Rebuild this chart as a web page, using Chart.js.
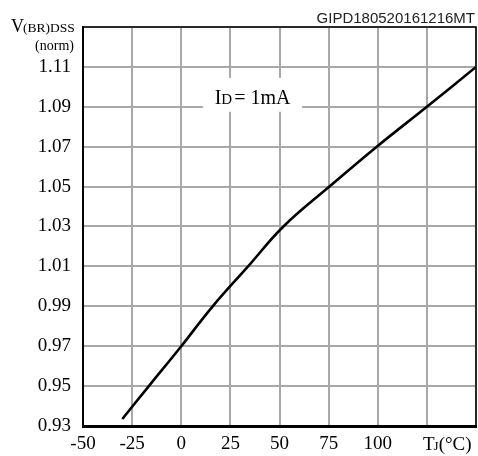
<!DOCTYPE html>
<html>
<head>
<meta charset="utf-8">
<script src="https://cdn.jsdelivr.net/npm/chart.js@4.4.1/dist/chart.umd.min.js"></script>
<style>
  html, body { margin: 0; padding: 0; background: #fff; }
  canvas { display: block; }
</style>
</head>
<body>
<canvas id="bvChart" width="478" height="456"></canvas>
<script>
// Junction temperature (°C) and normalised breakdown voltage
const tempC = [-30, -16.5, 0, 16, 34, 52, 75.4, 99.5, 125, 150];
const vNorm = [0.9335, 0.95, 0.97, 0.99, 1.01, 1.03, 1.05, 1.07, 1.09, 1.11];

const xTicks = [-50, -25, 0, 25, 50, 75, 100];   // labelled x ticks
const yMin = 0.93, yMax = 1.13, yStep = 0.02;
const xMin = -50, xMax = 150, xStep = 25;

const serif = '"Liberation Serif", "Times New Roman", serif';
const sans = '"Liberation Sans", Arial, sans-serif';

// frame, labels and the "ID = 1mA" note
const extras = {
    id: 'extras',
    beforeDatasetsDraw(chart) {
        const { ctx, scales: { x, y } } = chart;
        // white box behind the current note
        const bx1 = x.getPixelForValue(11), bx2 = x.getPixelForValue(61.5);
        const by1 = y.getPixelForValue(1.1045), by2 = y.getPixelForValue(1.0875);
        ctx.save();
        ctx.fillStyle = '#fff';
        ctx.fillRect(bx1, by1, bx2 - bx1, by2 - by1);
        ctx.restore();
    },
    afterDraw(chart) {
        const { ctx, chartArea: a, scales: { x, y } } = chart;
        ctx.save();
        // top and right edges of the frame
        ctx.strokeStyle = '#000';
        ctx.lineWidth = 1.5;
        ctx.beginPath();
        ctx.moveTo(a.left, a.top);
        ctx.lineTo(a.right, a.top);
        ctx.lineTo(a.right, a.bottom);
        ctx.stroke();

        ctx.fillStyle = '#000';
        ctx.textBaseline = 'alphabetic';

        // note text
        let tx = x.getPixelForValue(17);
        const ty = y.getPixelForValue(1.0915);
        ctx.textAlign = 'left';
        ctx.font = '20px ' + serif;
        ctx.fillText('I', tx, ty);
        tx += ctx.measureText('I').width;
        ctx.font = '15px ' + serif;
        ctx.fillText('D', tx, ty);
        tx += ctx.measureText('D').width + 2;
        ctx.font = '20px ' + serif;
        ctx.fillText('= 1mA', tx, ty);

        // y axis title
        ctx.font = '18px ' + serif;
        ctx.fillText('V', 11, 32);
        const vw = ctx.measureText('V').width;
        ctx.font = '13.5px ' + serif;
        ctx.fillText('(BR)DSS', 11 + vw - 1, 32);
        ctx.textAlign = 'right';
        ctx.font = '14px ' + serif;
        ctx.fillText('(norm)', 74, 50);

        // x axis title
        ctx.textAlign = 'left';
        let ux = 423;
        const uy = 450;
        ctx.font = '19px ' + serif;
        ctx.fillText('T', ux, uy);
        ux += ctx.measureText('T').width - 1;
        ctx.font = '13px ' + serif;
        ctx.fillText('J', ux, uy);
        ux += ctx.measureText('J').width;
        ctx.font = '19px ' + serif;
        ctx.fillText('(\u00b0C)', ux, uy);

        // figure code
        ctx.textAlign = 'right';
        ctx.font = '15px ' + sans;
        ctx.fillStyle = '#222';
        ctx.fillText('GIPD180520161216MT', 475, 23);
        ctx.restore();
    }
};

new Chart(document.getElementById('bvChart'), {
    type: 'line',
    data: {
        datasets: [{
            data: tempC.map((t, i) => ({ x: t, y: vNorm[i] })),
            borderColor: '#000',
            borderWidth: 2.6,
            pointRadius: 0,
            tension: 0.4,
            fill: false
        }]
    },
    options: {
        responsive: false,
        animation: false,
        devicePixelRatio: 1,
        layout: { padding: { top: 27, right: 2, left: 0, bottom: 0 } },
        plugins: { legend: { display: false }, tooltip: { enabled: false } },
        scales: {
            x: {
                type: 'linear',
                min: xMin,
                max: xMax,
                afterFit: s => { s.height = 30; s.paddingLeft = 0; s.paddingRight = 0; },
                afterBuildTicks: s => {
                    s.ticks = [];
                    for (let v = xMin; v <= xMax; v += xStep) s.ticks.push({ value: v });
                },
                ticks: {
                    padding: 7,
                    color: '#000',
                    font: { family: serif, size: 19 },
                    maxRotation: 0,
                    autoSkip: false,
                    callback: v => xTicks.includes(v) ? String(v) : ''
                },
                grid: { color: '#a8a8a8', lineWidth: 2, drawTicks: false },
                border: { display: true, color: '#000', width: 3 }
            },
            y: {
                min: yMin,
                max: yMax,
                afterFit: s => { s.width = 83; s.paddingTop = 0; s.paddingBottom = 0; },
                afterBuildTicks: s => {
                    s.ticks = [];
                    for (let i = 0; yMin + i * yStep <= yMax + 1e-9; i++) {
                        s.ticks.push({ value: +(yMin + i * yStep).toFixed(2) });
                    }
                },
                ticks: {
                    padding: 12,
                    color: '#000',
                    font: { family: serif, size: 19 },
                    callback: v => Math.abs(v - yMax) < 1e-6 ? '' : v.toFixed(2)
                },
                grid: { color: '#a8a8a8', lineWidth: 2, drawTicks: false },
                border: { display: true, color: '#000', width: 2 }
            }
        }
    },
    plugins: [extras]
});
</script>
</body>
</html>
